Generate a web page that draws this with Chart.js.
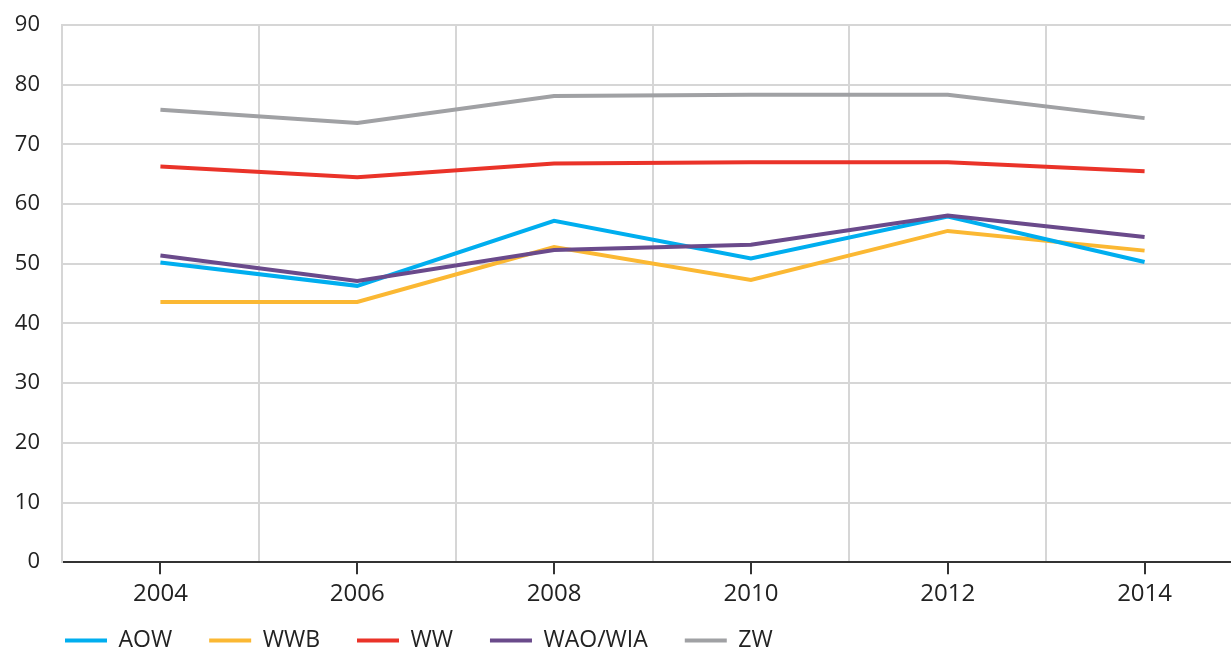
<!DOCTYPE html>
<html>
<head>
<meta charset="utf-8">
<script src="https://cdn.jsdelivr.net/npm/chart.js@4/dist/chart.umd.min.js"></script>
<style>
  html, body { margin: 0; padding: 0; background: #fff; overflow: hidden; }
  #wrap { position: relative; width: 1243px; height: 685px; }
</style>
</head>
<body>
<div id="wrap"><canvas id="myChart"></canvas></div>
<script>
// Years on the x axis
const years = ['2004', '2006', '2008', '2010', '2012', '2014'];

// One series per scheme
const aow = [50.2, 46.3, 57.2, 50.9, 57.9, 50.3];
const wwb = [43.6, 43.6, 52.8, 47.3, 55.5, 52.2];
const ww = [66.3, 64.5, 66.8, 67.0, 67.0, 65.5];
const waoWia = [51.4, 47.1, 52.3, 53.2, 58.1, 54.5];
const zw = [75.8, 73.6, 78.1, 78.3, 78.3, 74.4];

// Y axis range
const yMin = 0;
const yMax = 90;
const yStep = 10;

const textColor = '#222222';
const gridColor = '#d6d6d6';
const font = 'Open Sans';

function line(label, data, color, order) {
    return {
        label: label,
        data: data,
        borderColor: color,
        backgroundColor: color,
        borderWidth: 4,
        pointRadius: 0,
        pointHoverRadius: 0,
        tension: 0,
        order: order
    };
}

// pull the legend in under the axis labels, lined up with the plot's left edge
const legendNudge = {
    id: 'legendNudge',
    afterLayout(chart) {
        chart.legend.left += 28;
        chart.legend.top -= 23;
    }
};

const ctx = document.getElementById('myChart').getContext('2d');

const myChart = new Chart(ctx, {
    type: 'line',
    data: {
        labels: years,
        datasets: [
            line('AOW', aow, '#00aeef', 1),
            line('WWB', wwb, '#fbb833', 2),
            line('WW', ww, '#ea3329', 3),
            line('WAO/WIA', waoWia, '#6a4a8b', 0),
            line('ZW', zw, '#a0a1a4', 4)
        ]
    },
    plugins: [legendNudge],
    options: {
        responsive: true,
        maintainAspectRatio: false,
        animation: false,
        layout: {
            padding: { top: 25, left: 0, right: 0, bottom: 0 }
        },
        plugins: {
            tooltip: { enabled: false },
            legend: {
                position: 'bottom',
                align: 'start',
                labels: {
                    usePointStyle: true,
                    pointStyle: 'line',
                    pointStyleWidth: 42,
                    padding: 37,
                    color: textColor,
                    font: { family: font, size: 23 },
                    sort: (a, b) => a.datasetIndex - b.datasetIndex
                }
            }
        },
        scales: {
            // vertical grid lines between the years
            x: {
                type: 'category',
                position: 'top',
                offset: true,
                grid: { offset: true, color: gridColor, lineWidth: 2, drawTicks: false },
                border: { display: false },
                ticks: { display: false },
                afterFit: (scale) => { scale.height = 0; }
            },
            // year labels and tick marks along the bottom
            x2: {
                type: 'category',
                position: 'bottom',
                offset: true,
                grid: { offset: false, drawOnChartArea: false, color: '#333333', lineWidth: 2, tickLength: 12 },
                border: { color: '#333333', width: 2 },
                ticks: { color: textColor, font: { family: font, size: 24 }, padding: 6 }
            },
            y: {
                min: yMin,
                max: yMax,
                grid: {
                    color: (c) => (c.tick && c.tick.value === 0 ? 'rgba(0,0,0,0)' : gridColor),
                    lineWidth: 2,
                    // invisible tick marks keep the labels clear of the axis
                    tickLength: 22,
                    tickColor: 'rgba(0,0,0,0)'
                },
                border: { color: gridColor, width: 2 },
                ticks: {
                    stepSize: yStep,
                    color: textColor,
                    font: { family: font, size: 22 },
                    padding: 0
                },
                afterFit: (scale) => { scale.width = 62; }
            }
        }
    }
});
</script>
</body>
</html>
